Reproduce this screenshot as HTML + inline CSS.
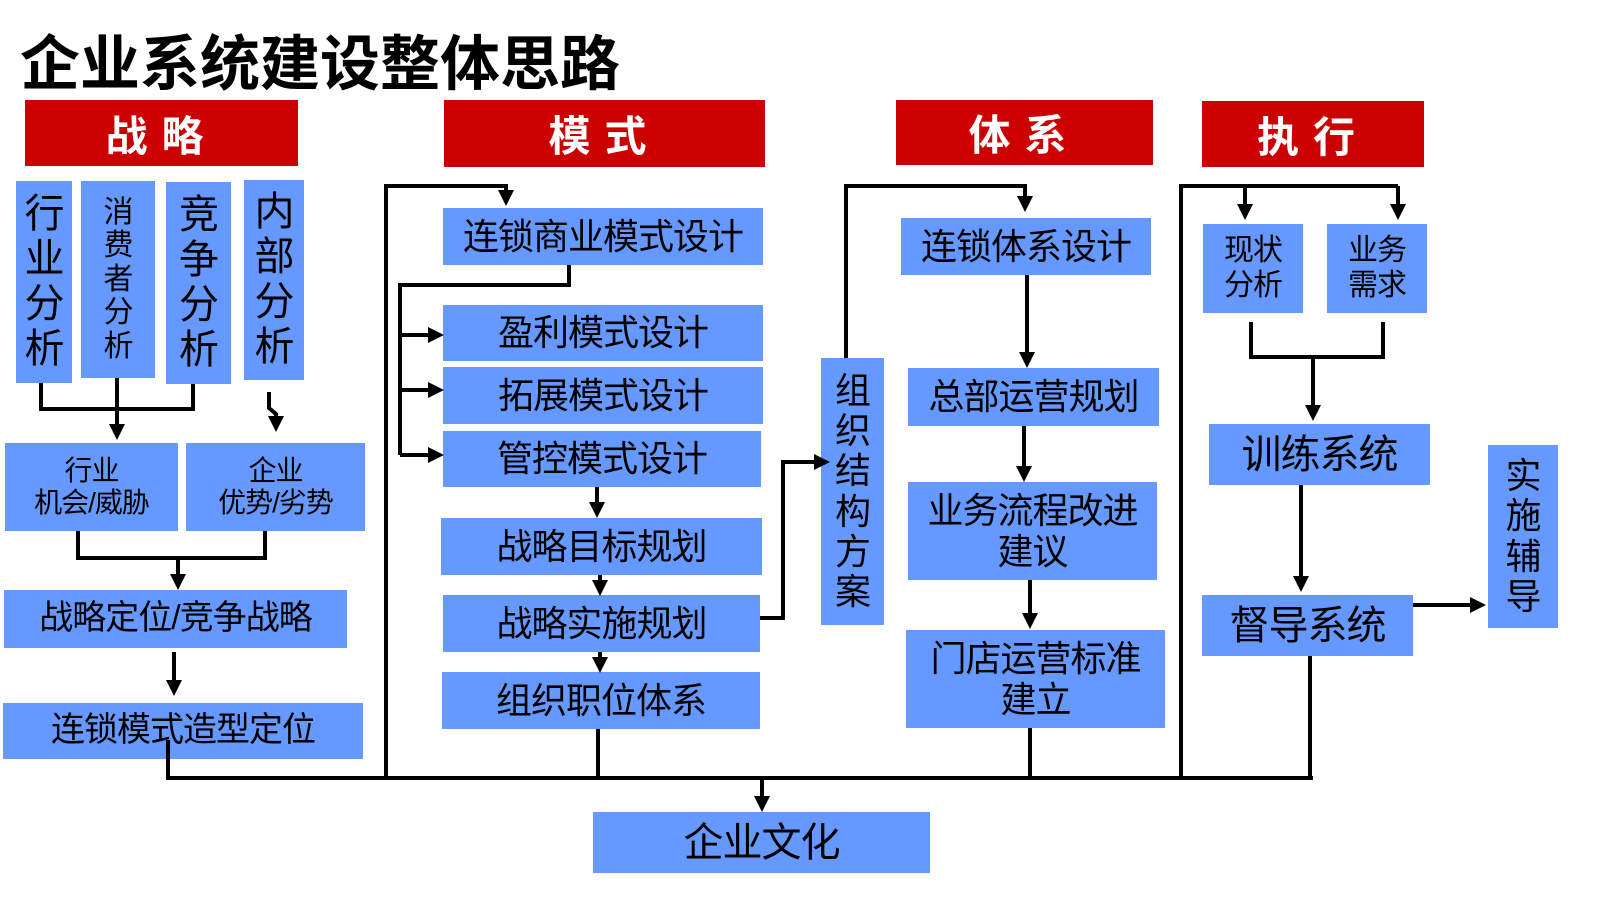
<!DOCTYPE html>
<html><head><meta charset="utf-8"><style>
body{margin:0;width:1600px;height:900px;background:#fff;position:relative;overflow:hidden;font-family:"Liberation Sans","Noto Sans CJK SC",sans-serif}
.b{position:absolute;background:#6699ff;color:#000;display:flex;align-items:center;justify-content:center;text-align:center;line-height:1.15;letter-spacing:-1px}
.h{position:absolute;background:#cc0000;color:#fff;font-weight:bold;font-size:42px;display:flex;align-items:center;justify-content:center;letter-spacing:14px}
.v{flex-direction:column;line-height:1.12}
svg{position:absolute;left:0;top:0}
</style></head><body>
<div style="position:absolute;left:20px;top:16px;font-size:60px;font-weight:bold;letter-spacing:0">企业系统建设整体思路</div>
<div class="h" style="left:25px;top:100px;width:273px;height:66px">战略</div>
<div class="h" style="left:444px;top:100px;width:321px;height:67px">模式</div>
<div class="h" style="left:896px;top:100px;width:257px;height:65px">体系</div>
<div class="h" style="left:1202px;top:101px;width:222px;height:66px">执行</div>

<div class="b v" style="left:16px;top:181px;width:56px;height:202px;font-size:40px">行<br>业<br>分<br>析</div>
<div class="b v" style="left:81px;top:181px;width:74px;height:197px;font-size:30px">消<br>费<br>者<br>分<br>析</div>
<div class="b v" style="left:166px;top:182px;width:65px;height:202px;font-size:40px">竞<br>争<br>分<br>析</div>
<div class="b v" style="left:244px;top:180px;width:60px;height:200px;font-size:40px">内<br>部<br>分<br>析</div>
<div class="b" style="left:5px;top:443px;width:173px;height:88px;font-size:28px">行业<br>机会/威胁</div>
<div class="b" style="left:186px;top:443px;width:179px;height:88px;font-size:28px">企业<br>优势/劣势</div>
<div class="b" style="left:4px;top:590px;width:343px;height:58px;font-size:34px">战略定位/竞争战略</div>
<div class="b" style="left:3px;top:703px;width:360px;height:56px;font-size:34px">连锁模式造型定位</div>

<div class="b" style="left:443px;top:208px;width:320px;height:57px;font-size:36px">连锁商业模式设计</div>
<div class="b" style="left:443px;top:305px;width:320px;height:56px;font-size:36px">盈利模式设计</div>
<div class="b" style="left:443px;top:367px;width:320px;height:57px;font-size:36px">拓展模式设计</div>
<div class="b" style="left:443px;top:431px;width:318px;height:56px;font-size:36px">管控模式设计</div>
<div class="b" style="left:441px;top:518px;width:321px;height:57px;font-size:36px">战略目标规划</div>
<div class="b" style="left:443px;top:595px;width:317px;height:57px;font-size:36px">战略实施规划</div>
<div class="b" style="left:442px;top:672px;width:318px;height:57px;font-size:36px">组织职位体系</div>

<div class="b v" style="left:821px;top:358px;width:63px;height:267px;font-size:36px">组<br>织<br>结<br>构<br>方<br>案</div>
<div class="b" style="left:901px;top:218px;width:250px;height:57px;font-size:36px">连锁体系设计</div>
<div class="b" style="left:908px;top:368px;width:251px;height:58px;font-size:36px">总部运营规划</div>
<div class="b" style="left:908px;top:482px;width:249px;height:98px;font-size:36px">业务流程改进<br>建议</div>
<div class="b" style="left:906px;top:630px;width:259px;height:98px;font-size:36px">门店运营标准<br>建立</div>

<div class="b" style="left:1203px;top:224px;width:100px;height:89px;font-size:30px">现状<br>分析</div>
<div class="b" style="left:1327px;top:224px;width:100px;height:89px;font-size:30px">业务<br>需求</div>
<div class="b" style="left:1209px;top:424px;width:221px;height:61px;font-size:40px">训练系统</div>
<div class="b" style="left:1202px;top:595px;width:211px;height:61px;font-size:40px">督导系统</div>
<div class="b v" style="left:1488px;top:445px;width:70px;height:183px;font-size:36px">实<br>施<br>辅<br>导</div>
<div class="b" style="left:593px;top:812px;width:337px;height:61px;font-size:40px">企业文化</div>

<svg width="1600" height="900">
<defs><marker id="a" markerWidth="4" markerHeight="4" refX="3" refY="2" orient="auto"><path d="M0,0L4,2L0,4z" fill="#000"/></marker></defs>
<g stroke="#000" stroke-width="4" fill="none">
<path d="M41,383V409H193V384"/><path d="M117,378V436" marker-end="url(#a)"/>
<path d="M269,392V408L276,414V428" marker-end="url(#a)"/>
<path d="M78,531V558H265V531"/><path d="M178,558V586" marker-end="url(#a)"/>
<path d="M174,652V692" marker-end="url(#a)"/>
<path d="M168,740V778H1313"/><path d="M762,778V808" marker-end="url(#a)"/>
<path d="M386,778V186H506V202" marker-end="url(#a)"/>
<path d="M569,265V285H400V455"/>
<path d="M400,335H440" marker-end="url(#a)"/><path d="M400,390H440" marker-end="url(#a)"/><path d="M400,455H440" marker-end="url(#a)"/>
<path d="M597,487V514" marker-end="url(#a)"/><path d="M600,575V592" marker-end="url(#a)"/><path d="M600,652V669" marker-end="url(#a)"/>
<path d="M598,729V778"/>
<path d="M760,618H783V462H826" marker-end="url(#a)"/>
<path d="M846,358V186H1025V208" marker-end="url(#a)"/>
<path d="M1027,275V364" marker-end="url(#a)"/><path d="M1024,426V478" marker-end="url(#a)"/><path d="M1030,580V625" marker-end="url(#a)"/><path d="M1030,728V778"/>
<path d="M1181,778V186H1398"/><path d="M1245,186V216" marker-end="url(#a)"/><path d="M1398,186V216" marker-end="url(#a)"/>
<path d="M1251,322V357H1383V322"/><path d="M1313,357V417" marker-end="url(#a)"/>
<path d="M1301,485V588" marker-end="url(#a)"/><path d="M1413,605H1482" marker-end="url(#a)"/>
<path d="M1310,656V778"/>
</g></svg>
</body></html>
